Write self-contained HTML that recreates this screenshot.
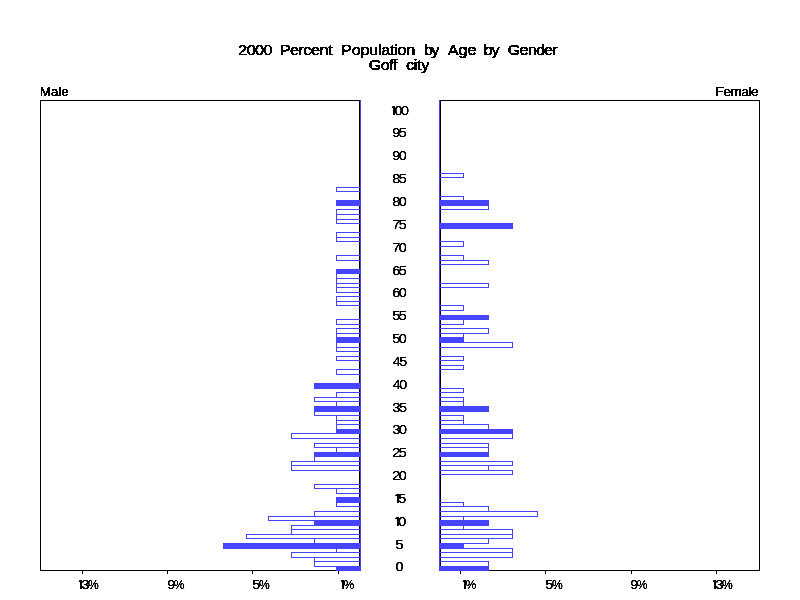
<!DOCTYPE html>
<html><head><meta charset="utf-8"><title>2000 Percent Population by Age by Gender - Goff city</title>
<style>html,body{margin:0;padding:0;background:#fff;}svg{display:block;}</style></head>
<body><svg width="800" height="600" viewBox="0 0 800 600">
<rect width="800" height="600" fill="#fff"/>
<g shape-rendering="crispEdges">
<rect x="40.5" y="100.5" width="319" height="470" fill="#fff" stroke="#000" stroke-width="1"/>
<rect x="440.5" y="100.5" width="319" height="470" fill="#fff" stroke="#000" stroke-width="1"/>
<rect x="82" y="571" width="1" height="3" fill="#000"/>
<rect x="167" y="571" width="1" height="3" fill="#000"/>
<rect x="252" y="571" width="1" height="3" fill="#000"/>
<rect x="338" y="571" width="1" height="3" fill="#000"/>
<rect x="460" y="571" width="1" height="3" fill="#000"/>
<rect x="545" y="571" width="1" height="3" fill="#000"/>
<rect x="631" y="571" width="1" height="3" fill="#000"/>
<rect x="716" y="571" width="1" height="3" fill="#000"/>
<rect x="336.5" y="566.5" width="24" height="4" fill="#4545ff" stroke="#4545ff" stroke-width="1"/>
<rect x="314.5" y="561.5" width="46" height="5" fill="none" stroke="#4545ff" stroke-width="1"/>
<rect x="314.5" y="557.5" width="46" height="4" fill="none" stroke="#4545ff" stroke-width="1"/>
<rect x="291.5" y="552.5" width="69" height="5" fill="none" stroke="#4545ff" stroke-width="1"/>
<rect x="336.5" y="548.5" width="24" height="4" fill="none" stroke="#4545ff" stroke-width="1"/>
<rect x="223.5" y="543.5" width="137" height="5" fill="#4545ff" stroke="#4545ff" stroke-width="1"/>
<rect x="314.5" y="538.5" width="46" height="5" fill="none" stroke="#4545ff" stroke-width="1"/>
<rect x="246.5" y="534.5" width="114" height="4" fill="none" stroke="#4545ff" stroke-width="1"/>
<rect x="291.5" y="529.5" width="69" height="5" fill="none" stroke="#4545ff" stroke-width="1"/>
<rect x="291.5" y="525.5" width="69" height="4" fill="none" stroke="#4545ff" stroke-width="1"/>
<rect x="314.5" y="520.5" width="46" height="5" fill="#4545ff" stroke="#4545ff" stroke-width="1"/>
<rect x="268.5" y="516.5" width="92" height="4" fill="none" stroke="#4545ff" stroke-width="1"/>
<rect x="314.5" y="511.5" width="46" height="5" fill="none" stroke="#4545ff" stroke-width="1"/>
<rect x="336.5" y="502.5" width="24" height="4" fill="none" stroke="#4545ff" stroke-width="1"/>
<rect x="336.5" y="497.5" width="24" height="5" fill="#4545ff" stroke="#4545ff" stroke-width="1"/>
<rect x="336.5" y="488.5" width="24" height="5" fill="none" stroke="#4545ff" stroke-width="1"/>
<rect x="314.5" y="484.5" width="46" height="4" fill="none" stroke="#4545ff" stroke-width="1"/>
<rect x="291.5" y="465.5" width="69" height="5" fill="none" stroke="#4545ff" stroke-width="1"/>
<rect x="291.5" y="461.5" width="69" height="4" fill="none" stroke="#4545ff" stroke-width="1"/>
<rect x="314.5" y="456.5" width="46" height="5" fill="none" stroke="#4545ff" stroke-width="1"/>
<rect x="314.5" y="452.5" width="46" height="4" fill="#4545ff" stroke="#4545ff" stroke-width="1"/>
<rect x="336.5" y="447.5" width="24" height="5" fill="none" stroke="#4545ff" stroke-width="1"/>
<rect x="314.5" y="443.5" width="46" height="4" fill="none" stroke="#4545ff" stroke-width="1"/>
<rect x="291.5" y="433.5" width="69" height="5" fill="none" stroke="#4545ff" stroke-width="1"/>
<rect x="336.5" y="429.5" width="24" height="4" fill="#4545ff" stroke="#4545ff" stroke-width="1"/>
<rect x="336.5" y="424.5" width="24" height="5" fill="none" stroke="#4545ff" stroke-width="1"/>
<rect x="336.5" y="420.5" width="24" height="4" fill="none" stroke="#4545ff" stroke-width="1"/>
<rect x="336.5" y="415.5" width="24" height="5" fill="none" stroke="#4545ff" stroke-width="1"/>
<rect x="314.5" y="411.5" width="46" height="4" fill="none" stroke="#4545ff" stroke-width="1"/>
<rect x="314.5" y="406.5" width="46" height="5" fill="#4545ff" stroke="#4545ff" stroke-width="1"/>
<rect x="336.5" y="401.5" width="24" height="5" fill="none" stroke="#4545ff" stroke-width="1"/>
<rect x="314.5" y="397.5" width="46" height="4" fill="none" stroke="#4545ff" stroke-width="1"/>
<rect x="336.5" y="392.5" width="24" height="5" fill="none" stroke="#4545ff" stroke-width="1"/>
<rect x="314.5" y="383.5" width="46" height="5" fill="#4545ff" stroke="#4545ff" stroke-width="1"/>
<rect x="336.5" y="369.5" width="24" height="5" fill="none" stroke="#4545ff" stroke-width="1"/>
<rect x="336.5" y="356.5" width="24" height="4" fill="none" stroke="#4545ff" stroke-width="1"/>
<rect x="336.5" y="347.5" width="24" height="4" fill="none" stroke="#4545ff" stroke-width="1"/>
<rect x="336.5" y="342.5" width="24" height="5" fill="none" stroke="#4545ff" stroke-width="1"/>
<rect x="336.5" y="337.5" width="24" height="5" fill="#4545ff" stroke="#4545ff" stroke-width="1"/>
<rect x="336.5" y="333.5" width="24" height="4" fill="none" stroke="#4545ff" stroke-width="1"/>
<rect x="336.5" y="328.5" width="24" height="5" fill="none" stroke="#4545ff" stroke-width="1"/>
<rect x="336.5" y="319.5" width="24" height="5" fill="none" stroke="#4545ff" stroke-width="1"/>
<rect x="336.5" y="301.5" width="24" height="4" fill="none" stroke="#4545ff" stroke-width="1"/>
<rect x="336.5" y="296.5" width="24" height="5" fill="none" stroke="#4545ff" stroke-width="1"/>
<rect x="336.5" y="287.5" width="24" height="5" fill="none" stroke="#4545ff" stroke-width="1"/>
<rect x="336.5" y="283.5" width="24" height="4" fill="none" stroke="#4545ff" stroke-width="1"/>
<rect x="336.5" y="278.5" width="24" height="5" fill="none" stroke="#4545ff" stroke-width="1"/>
<rect x="336.5" y="273.5" width="24" height="5" fill="none" stroke="#4545ff" stroke-width="1"/>
<rect x="336.5" y="269.5" width="24" height="4" fill="#4545ff" stroke="#4545ff" stroke-width="1"/>
<rect x="336.5" y="255.5" width="24" height="5" fill="none" stroke="#4545ff" stroke-width="1"/>
<rect x="336.5" y="237.5" width="24" height="4" fill="none" stroke="#4545ff" stroke-width="1"/>
<rect x="336.5" y="232.5" width="24" height="5" fill="none" stroke="#4545ff" stroke-width="1"/>
<rect x="336.5" y="219.5" width="24" height="4" fill="none" stroke="#4545ff" stroke-width="1"/>
<rect x="336.5" y="214.5" width="24" height="5" fill="none" stroke="#4545ff" stroke-width="1"/>
<rect x="336.5" y="209.5" width="24" height="5" fill="none" stroke="#4545ff" stroke-width="1"/>
<rect x="336.5" y="200.5" width="24" height="5" fill="#4545ff" stroke="#4545ff" stroke-width="1"/>
<rect x="336.5" y="187.5" width="24" height="4" fill="none" stroke="#4545ff" stroke-width="1"/>
<rect x="439.5" y="566.5" width="49" height="4" fill="#4545ff" stroke="#4545ff" stroke-width="1"/>
<rect x="439.5" y="561.5" width="49" height="5" fill="none" stroke="#4545ff" stroke-width="1"/>
<rect x="439.5" y="552.5" width="73" height="5" fill="none" stroke="#4545ff" stroke-width="1"/>
<rect x="439.5" y="548.5" width="73" height="4" fill="none" stroke="#4545ff" stroke-width="1"/>
<rect x="439.5" y="543.5" width="24" height="5" fill="#4545ff" stroke="#4545ff" stroke-width="1"/>
<rect x="439.5" y="538.5" width="49" height="5" fill="none" stroke="#4545ff" stroke-width="1"/>
<rect x="439.5" y="534.5" width="73" height="4" fill="none" stroke="#4545ff" stroke-width="1"/>
<rect x="439.5" y="529.5" width="73" height="5" fill="none" stroke="#4545ff" stroke-width="1"/>
<rect x="439.5" y="525.5" width="24" height="4" fill="none" stroke="#4545ff" stroke-width="1"/>
<rect x="439.5" y="520.5" width="49" height="5" fill="#4545ff" stroke="#4545ff" stroke-width="1"/>
<rect x="439.5" y="516.5" width="24" height="4" fill="none" stroke="#4545ff" stroke-width="1"/>
<rect x="439.5" y="511.5" width="98" height="5" fill="none" stroke="#4545ff" stroke-width="1"/>
<rect x="439.5" y="506.5" width="49" height="5" fill="none" stroke="#4545ff" stroke-width="1"/>
<rect x="439.5" y="502.5" width="24" height="4" fill="none" stroke="#4545ff" stroke-width="1"/>
<rect x="439.5" y="470.5" width="73" height="4" fill="none" stroke="#4545ff" stroke-width="1"/>
<rect x="439.5" y="465.5" width="49" height="5" fill="none" stroke="#4545ff" stroke-width="1"/>
<rect x="439.5" y="461.5" width="73" height="4" fill="none" stroke="#4545ff" stroke-width="1"/>
<rect x="439.5" y="452.5" width="49" height="4" fill="#4545ff" stroke="#4545ff" stroke-width="1"/>
<rect x="439.5" y="447.5" width="49" height="5" fill="none" stroke="#4545ff" stroke-width="1"/>
<rect x="439.5" y="443.5" width="49" height="4" fill="none" stroke="#4545ff" stroke-width="1"/>
<rect x="439.5" y="433.5" width="73" height="5" fill="none" stroke="#4545ff" stroke-width="1"/>
<rect x="439.5" y="429.5" width="73" height="4" fill="#4545ff" stroke="#4545ff" stroke-width="1"/>
<rect x="439.5" y="424.5" width="49" height="5" fill="none" stroke="#4545ff" stroke-width="1"/>
<rect x="439.5" y="420.5" width="24" height="4" fill="none" stroke="#4545ff" stroke-width="1"/>
<rect x="439.5" y="415.5" width="24" height="5" fill="none" stroke="#4545ff" stroke-width="1"/>
<rect x="439.5" y="406.5" width="49" height="5" fill="#4545ff" stroke="#4545ff" stroke-width="1"/>
<rect x="439.5" y="401.5" width="24" height="5" fill="none" stroke="#4545ff" stroke-width="1"/>
<rect x="439.5" y="397.5" width="24" height="4" fill="none" stroke="#4545ff" stroke-width="1"/>
<rect x="439.5" y="388.5" width="24" height="4" fill="none" stroke="#4545ff" stroke-width="1"/>
<rect x="439.5" y="365.5" width="24" height="4" fill="none" stroke="#4545ff" stroke-width="1"/>
<rect x="439.5" y="356.5" width="24" height="4" fill="none" stroke="#4545ff" stroke-width="1"/>
<rect x="439.5" y="342.5" width="73" height="5" fill="none" stroke="#4545ff" stroke-width="1"/>
<rect x="439.5" y="337.5" width="24" height="5" fill="#4545ff" stroke="#4545ff" stroke-width="1"/>
<rect x="439.5" y="333.5" width="24" height="4" fill="none" stroke="#4545ff" stroke-width="1"/>
<rect x="439.5" y="328.5" width="49" height="5" fill="none" stroke="#4545ff" stroke-width="1"/>
<rect x="439.5" y="319.5" width="24" height="5" fill="none" stroke="#4545ff" stroke-width="1"/>
<rect x="439.5" y="315.5" width="49" height="4" fill="#4545ff" stroke="#4545ff" stroke-width="1"/>
<rect x="439.5" y="305.5" width="24" height="5" fill="none" stroke="#4545ff" stroke-width="1"/>
<rect x="439.5" y="283.5" width="49" height="4" fill="none" stroke="#4545ff" stroke-width="1"/>
<rect x="439.5" y="260.5" width="49" height="4" fill="none" stroke="#4545ff" stroke-width="1"/>
<rect x="439.5" y="255.5" width="24" height="5" fill="none" stroke="#4545ff" stroke-width="1"/>
<rect x="439.5" y="241.5" width="24" height="5" fill="none" stroke="#4545ff" stroke-width="1"/>
<rect x="439.5" y="223.5" width="73" height="5" fill="#4545ff" stroke="#4545ff" stroke-width="1"/>
<rect x="439.5" y="205.5" width="49" height="4" fill="none" stroke="#4545ff" stroke-width="1"/>
<rect x="439.5" y="200.5" width="49" height="5" fill="#4545ff" stroke="#4545ff" stroke-width="1"/>
<rect x="439.5" y="196.5" width="24" height="4" fill="none" stroke="#4545ff" stroke-width="1"/>
<rect x="439.5" y="173.5" width="24" height="4" fill="none" stroke="#4545ff" stroke-width="1"/>
<rect x="360" y="100" width="1" height="471" fill="#4545ff"/>
<rect x="439" y="100" width="1" height="471" fill="#4545ff"/>
</g>
<defs><filter id="crisp" x="0" y="0" width="800" height="600" filterUnits="userSpaceOnUse" color-interpolation-filters="sRGB"><feComponentTransfer><feFuncA type="discrete" tableValues="0 1"/></feComponentTransfer></filter><filter id="soft" x="0" y="0" width="800" height="600" filterUnits="userSpaceOnUse" color-interpolation-filters="sRGB"><feComponentTransfer><feFuncA type="table" tableValues="0 0.1 0.9 1 1"/></feComponentTransfer></filter></defs>
<g font-family="'Liberation Sans', Arial, Helvetica, sans-serif" fill="#000" filter="url(#crisp)">
<text transform="translate(0,55) scale(1.08,1)" font-size="15" stroke="#000" stroke-width="0.5" stroke-linejoin="round"><tspan x="220.602" letter-spacing="-0.541">2000</tspan> <tspan x="259.028" letter-spacing="-0.464">Percent</tspan> <tspan x="315.972" letter-spacing="-0.258">Population</tspan> <tspan x="392.593" letter-spacing="-1.544">by</tspan> <tspan x="414.583" letter-spacing="-0.040">Age</tspan> <tspan x="447.685" letter-spacing="-0.850">by</tspan> <tspan x="470.139" letter-spacing="-0.757">Gender</tspan></text>
<text transform="translate(0,69.5) scale(1.08,1)" font-size="15" stroke="#000" stroke-width="0.5" stroke-linejoin="round"><tspan x="341.435" letter-spacing="-0.541">Goff</tspan> <tspan x="375.926" letter-spacing="-0.310">city</tspan></text>
<text transform="translate(0,96) scale(1.08,1)" font-size="12.5" stroke="#000" stroke-width="0.42" stroke-linejoin="round"><tspan x="36.713" letter-spacing="-0.078">Male</tspan></text>
<text transform="translate(0,96) scale(1.08,1)" font-size="12.5" stroke="#000" stroke-width="0.42" stroke-linejoin="round"><tspan x="662.593" letter-spacing="-0.387">Female</tspan></text>
</g>
<g font-family="'Liberation Sans', Arial, Helvetica, sans-serif" fill="#000" filter="url(#soft)">
<text transform="translate(395.50,571) scale(1.15,1)" font-size="12.5" letter-spacing="-1.25" word-spacing="0" stroke="#000" stroke-width="0.12" stroke-linejoin="round">0</text>
<text transform="translate(395.50,549) scale(1.15,1)" font-size="12.5" letter-spacing="-1.25" word-spacing="0" stroke="#000" stroke-width="0.12" stroke-linejoin="round">5</text>
<text transform="translate(394.25,526) scale(1.15,1)" font-size="12.5" letter-spacing="-1.25" word-spacing="0" stroke="#000" stroke-width="0.12" stroke-linejoin="round"><tspan font-family="IPAGothic, 'Liberation Sans', sans-serif" font-size="11.8" stroke-width="0.6" letter-spacing="-2.5">1</tspan>0</text>
<text transform="translate(394.25,503) scale(1.15,1)" font-size="12.5" letter-spacing="-1.25" word-spacing="0" stroke="#000" stroke-width="0.12" stroke-linejoin="round"><tspan font-family="IPAGothic, 'Liberation Sans', sans-serif" font-size="11.8" stroke-width="0.6" letter-spacing="-2.5">1</tspan>5</text>
<text transform="translate(392.20,480) scale(1.15,1)" font-size="12.5" letter-spacing="-1.25" word-spacing="0" stroke="#000" stroke-width="0.12" stroke-linejoin="round">20</text>
<text transform="translate(392.20,457) scale(1.15,1)" font-size="12.5" letter-spacing="-1.25" word-spacing="0" stroke="#000" stroke-width="0.12" stroke-linejoin="round">25</text>
<text transform="translate(392.45,434) scale(1.15,1)" font-size="12.5" letter-spacing="-1.25" word-spacing="0" stroke="#000" stroke-width="0.12" stroke-linejoin="round">30</text>
<text transform="translate(392.45,412) scale(1.15,1)" font-size="12.5" letter-spacing="-1.25" word-spacing="0" stroke="#000" stroke-width="0.12" stroke-linejoin="round">35</text>
<text transform="translate(392.70,389) scale(1.15,1)" font-size="12.5" letter-spacing="-1.25" word-spacing="0" stroke="#000" stroke-width="0.12" stroke-linejoin="round">40</text>
<text transform="translate(392.70,366) scale(1.15,1)" font-size="12.5" letter-spacing="-1.25" word-spacing="0" stroke="#000" stroke-width="0.12" stroke-linejoin="round">45</text>
<text transform="translate(392.20,343) scale(1.15,1)" font-size="12.5" letter-spacing="-1.25" word-spacing="0" stroke="#000" stroke-width="0.12" stroke-linejoin="round">50</text>
<text transform="translate(392.20,320) scale(1.15,1)" font-size="12.5" letter-spacing="-1.25" word-spacing="0" stroke="#000" stroke-width="0.12" stroke-linejoin="round">55</text>
<text transform="translate(392.20,297) scale(1.15,1)" font-size="12.5" letter-spacing="-1.25" word-spacing="0" stroke="#000" stroke-width="0.12" stroke-linejoin="round">60</text>
<text transform="translate(392.20,275) scale(1.15,1)" font-size="12.5" letter-spacing="-1.25" word-spacing="0" stroke="#000" stroke-width="0.12" stroke-linejoin="round">65</text>
<text transform="translate(392.20,252) scale(1.15,1)" font-size="12.5" letter-spacing="-1.25" word-spacing="0" stroke="#000" stroke-width="0.12" stroke-linejoin="round">70</text>
<text transform="translate(392.20,229) scale(1.15,1)" font-size="12.5" letter-spacing="-1.25" word-spacing="0" stroke="#000" stroke-width="0.12" stroke-linejoin="round">75</text>
<text transform="translate(392.20,206) scale(1.15,1)" font-size="12.5" letter-spacing="-1.25" word-spacing="0" stroke="#000" stroke-width="0.12" stroke-linejoin="round">80</text>
<text transform="translate(392.20,183) scale(1.15,1)" font-size="12.5" letter-spacing="-1.25" word-spacing="0" stroke="#000" stroke-width="0.12" stroke-linejoin="round">85</text>
<text transform="translate(392.20,160) scale(1.15,1)" font-size="12.5" letter-spacing="-1.25" word-spacing="0" stroke="#000" stroke-width="0.12" stroke-linejoin="round">90</text>
<text transform="translate(392.20,137) scale(1.15,1)" font-size="12.5" letter-spacing="-1.25" word-spacing="0" stroke="#000" stroke-width="0.12" stroke-linejoin="round">95</text>
<text transform="translate(390.55,115) scale(1.15,1)" font-size="12.5" letter-spacing="-1.25" word-spacing="0" stroke="#000" stroke-width="0.12" stroke-linejoin="round"><tspan font-family="IPAGothic, 'Liberation Sans', sans-serif" font-size="11.8" stroke-width="0.6" letter-spacing="-2.5">1</tspan>00</text>
<text transform="translate(77.55,589) scale(1.15,1)" font-size="12.5" letter-spacing="-1.25" word-spacing="0" stroke="#000" stroke-width="0.12" stroke-linejoin="round"><tspan font-family="IPAGothic, 'Liberation Sans', sans-serif" font-size="11.8" stroke-width="0.6" letter-spacing="-2.5">1</tspan>3<tspan textLength="9.4" lengthAdjust="spacingAndGlyphs" letter-spacing="0">%</tspan></text>
<text transform="translate(167.20,589) scale(1.15,1)" font-size="12.5" letter-spacing="-1.25" word-spacing="0" stroke="#000" stroke-width="0.12" stroke-linejoin="round">9<tspan textLength="9.4" lengthAdjust="spacingAndGlyphs" letter-spacing="0">%</tspan></text>
<text transform="translate(252.35,589) scale(1.15,1)" font-size="12.5" letter-spacing="-1.25" word-spacing="0" stroke="#000" stroke-width="0.12" stroke-linejoin="round">5<tspan textLength="9.4" lengthAdjust="spacingAndGlyphs" letter-spacing="0">%</tspan></text>
<text transform="translate(339.55,589) scale(1.15,1)" font-size="12.5" letter-spacing="-1.25" word-spacing="0" stroke="#000" stroke-width="0.12" stroke-linejoin="round"><tspan font-family="IPAGothic, 'Liberation Sans', sans-serif" font-size="11.8" stroke-width="0.6" letter-spacing="-2.5">1</tspan><tspan textLength="9.4" lengthAdjust="spacingAndGlyphs" letter-spacing="0">%</tspan></text>
<text transform="translate(461.55,589) scale(1.15,1)" font-size="12.5" letter-spacing="-1.25" word-spacing="0" stroke="#000" stroke-width="0.12" stroke-linejoin="round"><tspan font-family="IPAGothic, 'Liberation Sans', sans-serif" font-size="11.8" stroke-width="0.6" letter-spacing="-2.5">1</tspan><tspan textLength="9.4" lengthAdjust="spacingAndGlyphs" letter-spacing="0">%</tspan></text>
<text transform="translate(545.35,589) scale(1.15,1)" font-size="12.5" letter-spacing="-1.25" word-spacing="0" stroke="#000" stroke-width="0.12" stroke-linejoin="round">5<tspan textLength="9.4" lengthAdjust="spacingAndGlyphs" letter-spacing="0">%</tspan></text>
<text transform="translate(630.20,589) scale(1.15,1)" font-size="12.5" letter-spacing="-1.25" word-spacing="0" stroke="#000" stroke-width="0.12" stroke-linejoin="round">9<tspan textLength="9.4" lengthAdjust="spacingAndGlyphs" letter-spacing="0">%</tspan></text>
<text transform="translate(711.55,589) scale(1.15,1)" font-size="12.5" letter-spacing="-1.25" word-spacing="0" stroke="#000" stroke-width="0.12" stroke-linejoin="round"><tspan font-family="IPAGothic, 'Liberation Sans', sans-serif" font-size="11.8" stroke-width="0.6" letter-spacing="-2.5">1</tspan>3<tspan textLength="9.4" lengthAdjust="spacingAndGlyphs" letter-spacing="0">%</tspan></text>
</g>
</svg></body></html>
